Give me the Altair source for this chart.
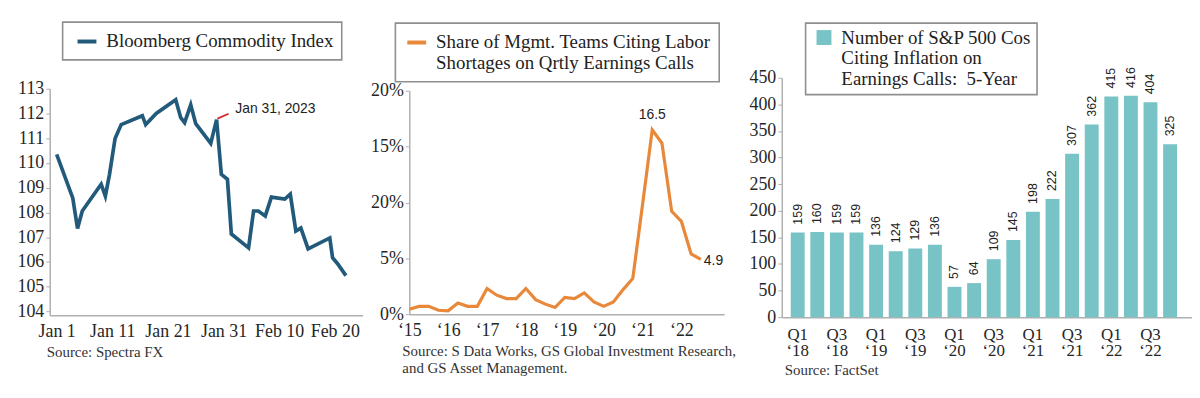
import altair as alt
import pandas as pd

# ---------------- data ----------------
# Panel 1: Bloomberg Commodity Index (x = days since Jan 1, 2023)
bcom_day = [0, 2.9, 3.75, 4.6, 8.0, 8.75, 9.5, 10.5, 11.6, 15.4, 16.0, 17.9, 21.4, 22.3, 23.0,
            24.1, 25.0, 27.7, 28.75, 29.6, 30.7, 31.4, 34.5, 35.4, 36.25, 37.5, 38.6, 41.0,
            42.0, 43.0, 43.9, 45.2, 49.1, 49.6, 50.5, 52.0]
bcom_val = [110.35, 108.58, 107.35, 108.06, 109.14, 108.66, 109.54, 110.99, 111.55, 111.91,
            111.55, 112.0, 112.55, 111.83, 111.63, 112.35, 111.59, 110.79, 111.75, 109.54,
            109.34, 107.13, 106.57, 108.06, 108.06, 107.86, 108.62, 108.54, 108.74, 107.25,
            107.37, 106.53, 106.97, 106.17, 105.93, 105.45]
bcom_tick_days = [0, 10, 20, 30, 40, 50]
bcom_tick_labels = ["Jan 1", "Jan 11", "Jan 21", "Jan 31", "Feb 10", "Feb 20"]
bcom_y_ticks = [104, 105, 106, 107, 108, 109, 110, 111, 112, 113]
note_day = [28.9, 30.9]
note_val = [111.79, 111.99]
note_text = ["Jan 31, 2023"]
note_text_day = [32.1]
note_text_val = [112.19]

# Panel 2: share of management teams citing labor shortages (quarterly, 2015 Q1 .. 2022 Q3)
labor_time = [2015 + i / 4 for i in range(31)]
labor_val = [0.45, 0.7, 0.7, 0.35, 0.3, 1.0, 0.7, 0.7, 2.3, 1.7, 1.4, 1.4, 2.3, 1.3, 0.9, 0.6,
             1.5, 1.4, 1.9, 1.1, 0.7, 1.1, 2.2, 3.2, 9.8, 16.5, 15.3, 9.2, 8.3, 5.4, 4.9]
labor_years = [2015, 2016, 2017, 2018, 2019, 2020, 2021, 2022]
labor_y_ticks = [0, 5, 10, 15, 20]
labor_y_labels = ["0%", "5%", "20%", "15%", "20%"]

# Panel 3: S&P 500 companies citing inflation on earnings calls
inf_quarters = [f"Q{q} \u2018{y}" for y in ["18", "19", "20", "21", "22"] for q in [1, 2, 3, 4]]
inf_val = [159, 160, 159, 159, 136, 124, 129, 136, 57, 64, 109, 145, 198, 222, 307, 362,
           415, 416, 404, 325]
inf_y_ticks = [0, 50, 100, 150, 200, 250, 300, 350, 400, 450]

# ---------------- style ----------------
SERIF = "Liberation Serif"
SANS = "Liberation Sans"
BLUE = "#225a7b"
ORANGE = "#e8883a"
TEAL = "#78c3c5"
RED = "#d8282e"
TXT = "#222222"
AXC = "#b0b0b0"


def ternary(values, labels, fallback="''"):
    expr = fallback
    for v, l in reversed(list(zip(values, labels))):
        expr = f"datum.value == {v} ? '{l}' : ({expr})"
    return expr


def source_title(lines, dx, offset=5):
    return alt.TitleParams(text=lines, orient="bottom", anchor="start", frame="group",
                           dx=dx, offset=offset, font=SERIF, fontSize=15,
                           fontWeight="normal", color="#333333", lineHeight=17)


def legend(x, y, pad, **kw):
    return alt.Legend(title=None, orient="none", legendX=x, legendY=y, strokeColor="#8f8f8f",
                      padding=pad, labelFont=SERIF, labelFontSize=19, labelColor=TXT,
                      labelLimit=600, labelOffset=8, labelBaseline="middle", **kw)


# ---------------- panel 1 ----------------
left_df = pd.DataFrame({"day": bcom_day, "value": bcom_val,
                        "series": ["Bloomberg Commodity Index"] * len(bcom_day)})
note_df = pd.DataFrame({"day": note_day, "value": note_val})
note_txt_df = pd.DataFrame({"day": note_text_day, "value": note_text_val, "t": note_text})

xl = alt.X("day:Q", scale=alt.Scale(domain=[-1.25, 55], nice=False, zero=False),
           axis=alt.Axis(values=bcom_tick_days, labelExpr=ternary(bcom_tick_days, bcom_tick_labels),
                         ticks=False, title=None, labelPadding=7, labelFlush=False))
yl = alt.Y("value:Q", scale=alt.Scale(domain=[103.85, 113], nice=False, zero=False, range=[239, 11]),
           axis=alt.Axis(values=bcom_y_ticks, title=None, tickSize=4, labelPadding=2,
                         labelOverlap=False))

left_line = alt.Chart(left_df).mark_line(strokeWidth=3.7).encode(
    x=xl, y=yl,
    color=alt.Color("series:N", scale=alt.Scale(range=[BLUE]),
                    legend=legend(13, -56, 8, symbolType="stroke", symbolSize=361,
                                  symbolStrokeWidth=4, symbolOffset=5)))
left_note = alt.Chart(note_df).mark_line(strokeWidth=1.8, color=RED).encode(x=xl, y=yl)
left_note_txt = alt.Chart(note_txt_df).mark_text(align="left", baseline="middle", font=SANS,
                                                  fontSize=14, color=TXT).encode(
    x=xl, y=yl, text="t:N")
left = alt.layer(left_line, left_note, left_note_txt).properties(
    width=315, height=239, title=source_title(["Source: Spectra FX"], dx=-3))

# ---------------- panel 2 ----------------
mid_df = pd.DataFrame({"t": labor_time, "value": labor_val,
                       "series": ["Share of Mgmt. Teams Citing Labor|Shortages on Qrtly Earnings Calls"] * len(labor_val)})
peak_i = labor_val.index(max(labor_val))
peak_df = pd.DataFrame({"t": [labor_time[peak_i]], "value": [labor_val[peak_i]],
                        "lab": [f"{labor_val[peak_i]}"]})
last_df = pd.DataFrame({"t": [labor_time[-1]], "value": [labor_val[-1]], "lab": [f"{labor_val[-1]}"]})

xm = alt.X("t:Q", scale=alt.Scale(domain=[2015, 2023.1], nice=False, zero=False),
           axis=alt.Axis(values=labor_years, labelExpr="'\u2018' + substring(toString(datum.value), 2, 4)",
                         ticks=False, title=None, labelPadding=7, labelFlush=False))
ym = alt.Y("value:Q", scale=alt.Scale(domain=[0, 20], nice=False, range=[238, 13]),
           axis=alt.Axis(values=labor_y_ticks, labelExpr=ternary(labor_y_ticks, labor_y_labels),
                         title=None, tickSize=4, labelPadding=2, labelOverlap=False, minExtent=41))
mid_line = alt.Chart(mid_df).mark_line(strokeWidth=3.2).encode(
    x=xm, y=ym,
    color=alt.Color("series:N", scale=alt.Scale(range=[ORANGE]),
                    legend=legend(-14, -55, 8, labelExpr="split(datum.label, '|')",
                                  symbolType="stroke", symbolSize=361, symbolStrokeWidth=4,
                                  symbolOffset=2)))
mid_peak = alt.Chart(peak_df).mark_text(baseline="middle", align="center", dy=-15, font=SANS,
                                        fontSize=14, color=TXT).encode(x=xm, y=ym, text="lab:N")
mid_last = alt.Chart(last_df).mark_text(baseline="middle", align="left", dx=3, dy=2, font=SANS,
                                        fontSize=14, color=TXT).encode(x=xm, y=ym, text="lab:N")
mid = alt.layer(mid_line, mid_peak, mid_last).properties(
    width=317, height=238,
    title=source_title(["Source: S Data Works, GS Global Investment Research,",
                        "and GS Asset Management."], dx=-7))

# ---------------- panel 3 ----------------
right_df = pd.DataFrame({"q": inf_quarters, "value": inf_val,
                         "series": ["Number of S&P 500 Cos|Citing Inflation on|Earnings Calls:\u00a0 5-Year"] * len(inf_val)})
xr = alt.X("q:N", sort=inf_quarters,
           scale=alt.Scale(paddingInner=0.29, paddingOuter=0.61, align=0.375),
           axis=alt.Axis(labelExpr="(indexof(datum.value, 'Q1') == 0 || indexof(datum.value, 'Q3') == 0) ? split(datum.value, ' ') : ''",
                         labelAngle=0, ticks=False, title=None, labelPadding=9, labelLineHeight=17,
                         labelFontSize=17, labelOverlap=False, labelBaseline="top"))
yr = alt.Y("value:Q", scale=alt.Scale(domain=[0, 450], nice=False),
           axis=alt.Axis(values=inf_y_ticks, title=None, tickSize=4, labelPadding=2, minExtent=39,
                         labelOverlap=False))
bars = alt.Chart(right_df).mark_bar().encode(
    x=xr, y=yr,
    color=alt.Color("series:N", scale=alt.Scale(range=[TEAL]),
                    legend=legend(24, -55, 5, labelExpr="split(datum.label, '|')",
                                  symbolType="square", symbolSize=225,
                                  symbolStrokeWidth=0, symbolOffset=4)))
bar_txt = alt.Chart(right_df).mark_text(angle=270, align="left", baseline="middle", dx=8,
                                        font=SANS, fontSize=12.5, color=TXT).encode(
    x=xr, y=yr, text="value:Q")
right = alt.layer(bars, bar_txt).properties(
    width=413, height=241, title=source_title(["Source: FactSet"], dx=3, offset=4))

chart = alt.hconcat(left, mid, right, spacing=6).resolve_scale(color="independent").properties(
    padding={"left": 9, "top": 12, "right": 0, "bottom": 0}
).configure_view(stroke=None).configure_axis(
    labelFont=SERIF, labelFontSize=18, labelColor="#262626", domainColor=AXC, tickColor=AXC,
    domainWidth=1.5, grid=False
).configure_legend(strokeWidth=1.6)

chart.save("out.html", embed_options={"renderer": "svg", "actions": False})
